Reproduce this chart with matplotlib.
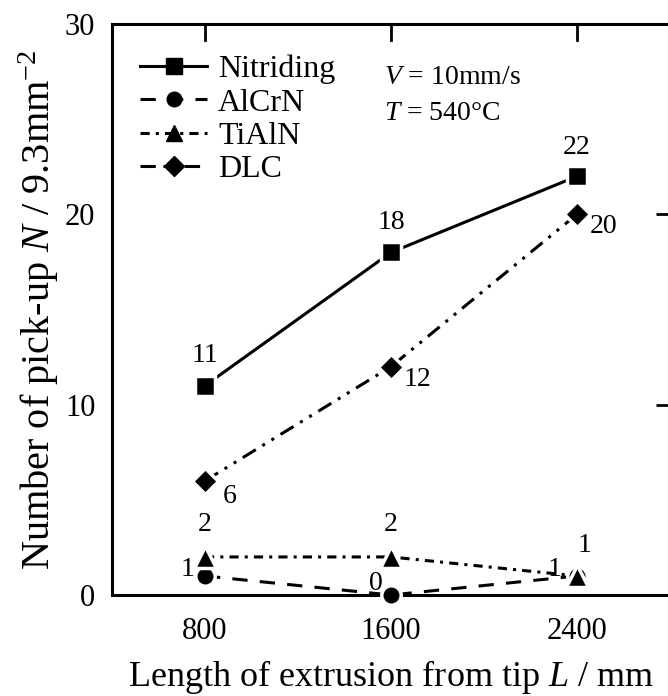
import matplotlib
matplotlib.use("Agg")
import matplotlib.pyplot as plt
from matplotlib.lines import Line2D

plt.rcParams['font.family'] = ['Liberation Serif', 'DejaVu Serif']
plt.rcParams['mathtext.fontset'] = 'custom'
plt.rcParams['mathtext.rm'] = 'Liberation Serif'
plt.rcParams['mathtext.it'] = 'Liberation Serif:italic'

# data
length = [800, 1600, 2400]
nitriding = [11, 18, 22]
alcrn = [1, 0, 1]
tialn = [2, 2, 1]
dlc = [6, 12, 20]

names = ['Nitriding', 'AlCrN', 'TiAlN', 'DLC']
series = [nitriding, alcrn, tialn, dlc]
markers = ['s', 'o', '^', 'D']
msizes = [15, 14, 16, 13]
styles = ['-', (0, (5, 4)), (0, (3, 2, 1, 2)), (0, (5, 2.5, 1, 2.5, 1, 2.5))]

# label offsets (pixels, dx / dy up) for each value annotation
offsets = {
    'Nitriding': [(0, 30), (0, 30), (0, 29)],
    'AlCrN': [(-17, 6), (-15, 12), (-22, 6)],
    'TiAlN': [(0, 32), (0, 32), (8, 30)],
    'DLC': [(25, -16), (26, -13), (27, -12)],
}

fig = plt.figure(figsize=(6.68, 6.96), dpi=100)
ax = fig.add_axes([0.1677, 0.1451, 0.8353, 0.8204])

for name, vals, m, ms, ls in zip(names, series, markers, msizes, styles):
    ax.plot(length, vals, color='black', lw=2.2, linestyle=ls, zorder=2)
    ax.plot(length, vals, linestyle='none', marker=m, ms=ms, mfc='black',
            mec='white', mew=2.5, zorder=3, clip_on=False)
    for x, y, (dx, dy) in zip(length, vals, offsets[name]):
        ax.annotate(str(y), (x, y), xytext=(dx * 0.72, dy * 0.72),
                    textcoords='offset points', fontsize=20,
                    ha='center', va='center', zorder=4)

ax.set_xlim(400, 2800)
ax.set_ylim(0, 30)
ax.set_xticks(length)
ax.set_yticks([0, 10, 20, 30])
ax.tick_params(labelsize=22, pad=12)
ax.tick_params(axis='x', bottom=False, top=False)
ax.tick_params(axis='y', left=False, right=True, direction='in', length=10, width=2)

# inward tick marks along the top edge, at the x tick positions
for x in ax.get_xticks():
    ax.plot([x, x], [1.0, 0.972], transform=ax.get_xaxis_transform(),
            color='black', lw=2, clip_on=False, zorder=5)

for sp in ax.spines.values():
    sp.set_linewidth(2.2)

ax.set_xlabel('Length of extrusion from tip $\\mathit{L}$ / mm', fontsize=26, labelpad=9)
ax.set_ylabel('Number of pick-up $\\mathit{N}$ / 9.3mm$^{-2}$', fontsize=29, labelpad=3)

handles = [Line2D([0], [0], color='black', lw=2.2, linestyle=ls, marker=m,
                  ms=ms * 0.75, mfc='black', mec='black')
           for m, ms, ls in zip(markers, msizes, styles)]
ax.legend(handles, names, loc='upper left', bbox_to_anchor=(0.01, 0.985),
          frameon=False, fontsize=23, handlelength=2.1, handletextpad=0.35,
          labelspacing=0.12, borderaxespad=0.3)

ax.text(0.488, 0.906, '$\\mathit{V}$ = 10mm/s', transform=ax.transAxes,
        fontsize=20, va='center')
ax.text(0.488, 0.843, '$\\mathit{T}$ = 540°C', transform=ax.transAxes,
        fontsize=20, va='center')

fig.savefig('out.png', dpi=100)
